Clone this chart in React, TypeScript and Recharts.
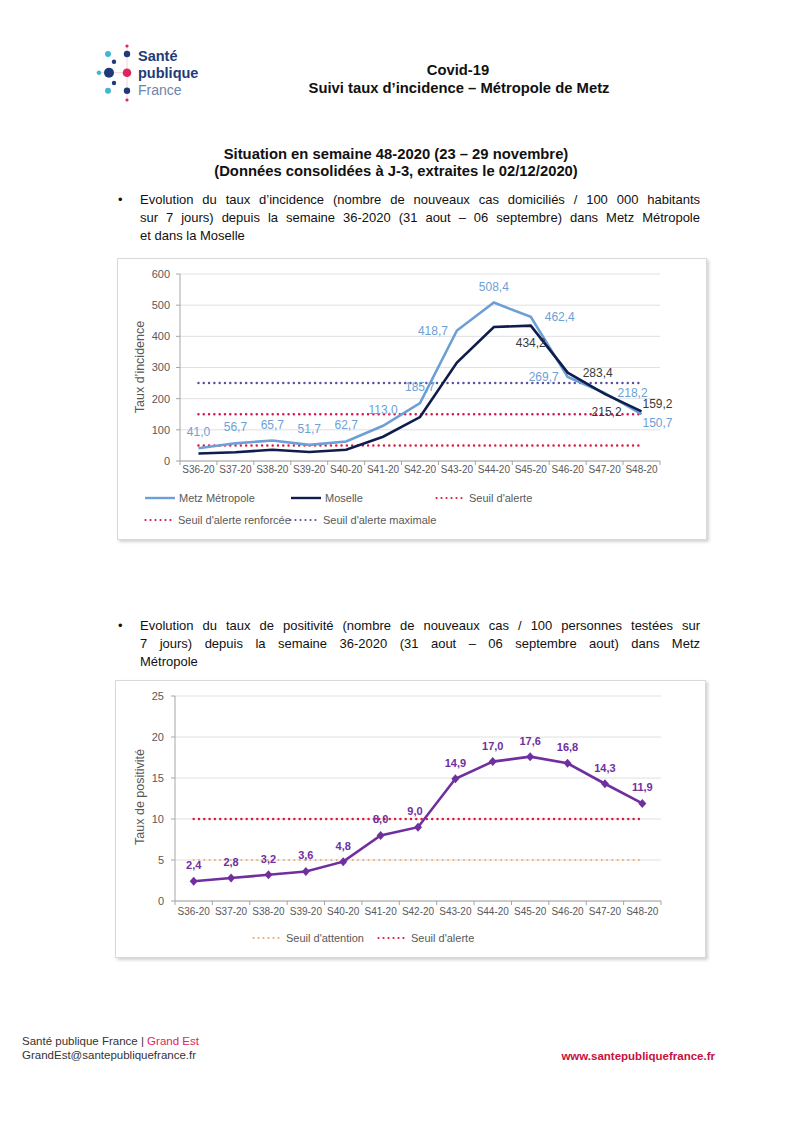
import React from "react";
import { LineChart, Line, XAxis, YAxis, CartesianGrid, ReferenceLine, LabelList } from "recharts";

// semaines
const weeks = ["S36-20", "S37-20", "S38-20", "S39-20", "S40-20", "S41-20", "S42-20", "S43-20", "S44-20", "S45-20", "S46-20", "S47-20", "S48-20"];

// taux d'incidence / 100 000 hab
const metzIncidence = [41.0, 56.7, 65.7, 51.7, 62.7, 113.0, 185.7, 418.7, 508.4, 462.4, 269.7, 218.2, 150.7];
const moselleIncidence = [24, 28, 36, 29, 36, 78, 141, 316, 430, 434.2, 283.4, 215.2, 159.2];
const incidenceTicks = [0, 100, 200, 300, 400, 500, 600];
const incidenceThresholds = [50, 150, 250];
const incidenceThresholdNames = ["Seuil d'alerte", "Seuil d'alerte renforcée", "Seuil d'alerte maximale"];

// taux de positivité
const metzPositivity = [2.4, 2.8, 3.2, 3.6, 4.8, 8.0, 9.0, 14.9, 17.0, 17.6, 16.8, 14.3, 11.9];
const positivityTicks = [0, 5, 10, 15, 20, 25];
const positivityThresholds = [5, 10];
const positivityThresholdNames = ["Seuil d'attention", "Seuil d'alerte"];

const incidenceRows = weeks.map((week, i) => ({ week, metz: metzIncidence[i], moselle: moselleIncidence[i] }));
const positivityRows = weeks.map((week, i) => ({ week, pos: metzPositivity[i] }));

const C = {
  metz: "#6c9fd6",
  moselle: "#0f1d4d",
  moselleText: "#3a3a3a",
  alerte: "#e3173e",
  renforcee: "#d0154c",
  maximale: "#5a4fa3",
  attention: "#f2a86c",
  purple: "#6f2f9f",
  axis: "#a6a6a6",
  grid: "#e0e0e0",
  text: "#595959",
  navy: "#1f3a7a",
  cyan: "#3fb6d3",
  crimson: "#e0245e",
};

const FONT = "'Liberation Sans', Arial, sans-serif";
const NARROW = "'Liberation Sans Narrow', 'Liberation Sans', Arial, sans-serif";
const fmt = (v: number) => v.toFixed(1).replace(".", ",");

const incidenceColors = [C.alerte, C.renforcee, C.maximale];
const positivityColors = [C.attention, C.alerte];

// tick labels centred on categories, tick marks between them (Excel style)
const makeTick = (axisY: number, band: number, count: number, textDy: number) => (props: any) => {
  const { x, payload, index } = props;
  const h = band / 2;
  return (
    <g>
      <line x1={x - h} x2={x - h} y1={axisY} y2={axisY + 4} stroke={C.axis} />
      {index === count - 1 && <line x1={x + h} x2={x + h} y1={axisY} y2={axisY + 4} stroke={C.axis} />}
      <text x={x} y={axisY + textDy} textAnchor="middle" dominantBaseline="central" fontSize={10} fill={C.text} fontFamily={FONT}>
        {payload.value}
      </text>
    </g>
  );
};

const makeLabel =
  (values: number[], shifts: Record<number, number[]>, color: string, size: number, weight: string, from = 0) =>
  (p: any) => {
    const idx = typeof p.index === "number" ? p.index : values.indexOf(p.value);
    if (idx < from) return null;
    const x = p.x ?? p.viewBox?.x;
    const y = p.y ?? p.viewBox?.y;
    const [dx, dy] = shifts[idx] ?? [0, -16];
    return (
      <text key={idx} x={x + dx} y={y + dy} textAnchor="middle" dominantBaseline="central" fontSize={size} fontWeight={weight} fill={color} fontFamily={FONT}>
        {fmt(Number(p.value))}
      </text>
    );
  };

const Diamond = (p: any) => {
  const { cx, cy, index } = p;
  return <path key={index} d={`M${cx},${cy - 4.5}L${cx + 4},${cy}L${cx},${cy + 4.5}L${cx - 4},${cy}Z`} fill={C.purple} />;
};

const LegendItem = ({ x, y, kind, color, label }: { x: number; y: number; kind: string; color: string; label: string }) => (
  <div style={{ position: "absolute", left: x, top: y - 8, height: 16, display: "flex", alignItems: "center", fontSize: 11, color: C.text, whiteSpace: "nowrap" }}>
    <svg width={30} height={6} style={{ marginRight: 4 }}>
      {kind === "solid" ? (
        <line x1={0} x2={30} y1={3} y2={3} stroke={color} strokeWidth={2.4} />
      ) : (
        <line x1={1.5} x2={29} y1={3} y2={3} stroke={color} strokeWidth={2.2} strokeDasharray="0 5" strokeLinecap="round" />
      )}
    </svg>
    {label}
  </div>
);

const AxisTitle = ({ cx, cy, text }: { cx: number; cy: number; text: string }) => (
  <div style={{ position: "absolute", left: cx - 100, top: cy - 8, width: 200, lineHeight: "16px", textAlign: "center", fontSize: 12.5, color: C.text, transform: "rotate(-90deg)" }}>
    {text}
  </div>
);

const Bullet = ({ top, lines }: { top: number; lines: string[] }) => (
  <div style={{ position: "absolute", left: 140, top, width: 560, fontSize: 13, lineHeight: "18px", color: "#111" }}>
    <span style={{ position: "absolute", left: -22 }}>•</span>
    {lines.map((l, i) => (
      <div key={i} style={{ textAlign: i < lines.length - 1 ? "justify" : "left", textAlignLast: i < lines.length - 1 ? "justify" : "left" }}>
        {l}
      </div>
    ))}
  </div>
);

const Centered = ({ cx, cy, text, size = 14.8 }: { cx: number; cy: number; text: string; size?: number }) => (
  <div style={{ position: "absolute", left: cx - 250, top: cy - 9, width: 500, lineHeight: "18px", textAlign: "center", fontSize: size, fontWeight: "bold", color: "#111" }}>
    {text}
  </div>
);

const Logo = () => (
  <svg width={120} height={70} style={{ position: "absolute", left: 92, top: 40 }}>
    <line x1={4} x2={36} y1={32.7} y2={32.7} stroke="#f3c6d3" strokeWidth={0.8} />
    <line x1={35} x2={35} y1={6} y2={60} stroke="#f3c6d3" strokeWidth={0.8} />
    <circle cx={35} cy={6} r={1.6} fill={C.crimson} />
    <circle cx={16} cy={14} r={3} fill={C.cyan} />
    <circle cx={35} cy={14} r={3.2} fill={C.navy} />
    <circle cx={22} cy={21.7} r={2.2} fill={C.navy} />
    <circle cx={7} cy={32.7} r={2.2} fill={C.cyan} />
    <circle cx={17} cy={32.7} r={5} fill={C.navy} />
    <circle cx={35} cy={32.7} r={4.3} fill={C.crimson} />
    <circle cx={22} cy={43} r={2.2} fill={C.navy} />
    <circle cx={16} cy={50.7} r={3} fill={C.cyan} />
    <circle cx={35} cy={50.7} r={3.2} fill={C.navy} />
    <circle cx={35} cy={60} r={1.6} fill={C.crimson} />
    <text x={46} y={21} fontSize={14.5} fontWeight="bold" fill={C.navy} fontFamily={FONT}>Santé</text>
    <text x={46} y={38} fontSize={14.5} fontWeight="bold" fill={C.navy} fontFamily={FONT}>publique</text>
    <text x={46} y={55} fontSize={14} fill="#6b86ad" fontFamily={FONT}>France</text>
  </svg>
);

// ---- chart 1 layout
const W1 = 590;
const H1 = 282;
const M1 = { top: 16, right: 47, left: 0, bottom: 59 };
const YW1 = 63;
const BAND1 = (W1 - M1.right - YW1) / weeks.length;
const AXIS_Y1 = H1 - M1.bottom - 20;

// ---- chart 2 layout
const W2 = 591;
const H2 = 278;
const M2 = { top: 16, right: 45, left: 0, bottom: 37 };
const YW2 = 60;
const BAND2 = (W2 - M2.right - YW2) / weeks.length;
const AXIS_Y2 = H2 - M2.bottom - 20;

const boxStyle: React.CSSProperties = {
  position: "absolute",
  border: "1px solid #d9d9d9",
  boxShadow: "2px 2px 3px rgba(0,0,0,0.18)",
  background: "#fff",
};

const first = weeks[0];
const last = weeks[weeks.length - 1];

const IncidenceChart = () => (
  <LineChart width={W1} height={H1} data={incidenceRows} margin={M1}>
    <CartesianGrid vertical={false} stroke={C.grid} />
    <XAxis
      dataKey="week"
      interval={0}
      height={20}
      padding={{ left: BAND1 / 2, right: BAND1 / 2 }}
      tickLine={false}
      axisLine={{ stroke: C.axis }}
      tick={makeTick(AXIS_Y1, BAND1, weeks.length, 8.5)}
    />
    <YAxis
      width={YW1}
      domain={[0, 600]}
      ticks={incidenceTicks}
      interval={0}
      tickSize={4}
      tickMargin={6}
      axisLine={{ stroke: C.axis }}
      tickLine={{ stroke: C.axis }}
      tick={{ fontSize: 11, fill: C.text, fontFamily: FONT }}
    />
    {incidenceThresholds.map((t, i) => (
      <ReferenceLine
        key={t}
        segment={[{ x: first, y: t }, { x: last, y: t }]}
        stroke={incidenceColors[i]}
        strokeWidth={2.5}
        strokeDasharray="0 5.3"
        strokeLinecap="round"
      />
    ))}
    <Line dataKey="metz" stroke={C.metz} strokeWidth={2.6} dot={false} isAnimationActive={false}>
      <LabelList dataKey="metz" content={makeLabel(metzIncidence, { 7: [-24, 0], 9: [29, 0], 10: [-24, 0], 11: [28, 0], 12: [16, 9] }, C.metz, 12, "normal")} />
    </Line>
    <Line dataKey="moselle" stroke={C.moselle} strokeWidth={2.6} dot={false} isAnimationActive={false}>
      <LabelList dataKey="moselle" content={makeLabel(moselleIncidence, { 9: [0, 17], 10: [30, 0], 11: [2, 18], 12: [16, -7] }, C.moselleText, 12, "normal", 9)} />
    </Line>
  </LineChart>
);

const PositivityChart = () => (
  <LineChart width={W2} height={H2} data={positivityRows} margin={M2}>
    <CartesianGrid vertical={false} stroke={C.grid} />
    <XAxis
      dataKey="week"
      interval={0}
      height={20}
      padding={{ left: BAND2 / 2, right: BAND2 / 2 }}
      tickLine={false}
      axisLine={{ stroke: C.axis }}
      tick={makeTick(AXIS_Y2, BAND2, weeks.length, 10.5)}
    />
    <YAxis
      width={YW2}
      domain={[0, 25]}
      ticks={positivityTicks}
      interval={0}
      tickSize={4}
      tickMargin={7}
      axisLine={{ stroke: C.axis }}
      tickLine={{ stroke: C.axis }}
      tick={{ fontSize: 11, fill: C.text, fontFamily: FONT }}
    />
    {positivityThresholds.map((t, i) => (
      <ReferenceLine
        key={t}
        segment={[{ x: first, y: t }, { x: last, y: t }]}
        stroke={positivityColors[i]}
        strokeWidth={i === 0 ? 2 : 2.5}
        strokeDasharray="0 5.3"
        strokeLinecap="round"
      />
    ))}
    <Line dataKey="pos" stroke={C.purple} strokeWidth={2.6} dot={Diamond} activeDot={false} isAnimationActive={false}>
      <LabelList dataKey="pos" content={makeLabel(metzPositivity, { 6: [-3, -16] }, C.purple, 11, "bold")} />
    </Line>
  </LineChart>
);

export default function App() {
  return (
    <div style={{ position: "absolute", left: 0, top: 0, width: 795, height: 1125, background: "#fff", fontFamily: FONT, overflow: "hidden" }}>
      <Logo />
      <Centered cx={458} cy={70} text="Covid-19" />
      <Centered cx={459} cy={88} text="Suivi taux d’incidence – Métropole de Metz" />
      <Centered cx={396} cy={154} text="Situation en semaine 48-2020 (23 – 29 novembre)" />
      <Centered cx={396} cy={171} text="(Données consolidées à J-3, extraites le 02/12/2020)" />

      <Bullet
        top={191}
        lines={[
          "Evolution du taux d’incidence (nombre de nouveaux cas domiciliés / 100 000 habitants",
          "sur 7 jours) depuis la semaine 36-2020 (31 aout – 06 septembre) dans Metz Métropole",
          "et dans la Moselle",
        ]}
      />

      <div style={{ ...boxStyle, left: 117, top: 258, width: W1 - 2, height: H1 - 2 }}>
        <div style={{ position: "absolute", left: -1, top: -1 }}>
          <IncidenceChart />
        </div>
      </div>
      <AxisTitle cx={140} cy={367} text="Taux d’incidence" />
      <LegendItem x={145} y={498} kind="solid" color={C.metz} label="Metz Métropole" />
      <LegendItem x={291} y={498} kind="solid" color={C.moselle} label="Moselle" />
      <LegendItem x={435} y={498} kind="dot" color={incidenceColors[0]} label={incidenceThresholdNames[0]} />
      <LegendItem x={144} y={520} kind="dot" color={incidenceColors[1]} label={incidenceThresholdNames[1]} />
      <LegendItem x={289} y={520} kind="dot" color={incidenceColors[2]} label={incidenceThresholdNames[2]} />

      <Bullet
        top={617}
        lines={[
          "Evolution du taux de positivité (nombre de nouveaux cas / 100 personnes testées sur",
          "7 jours) depuis la semaine 36-2020 (31 aout – 06 septembre aout) dans Metz",
          "Métropole",
        ]}
      />

      <div style={{ ...boxStyle, left: 115, top: 680, width: W2 - 2, height: H2 - 2 }}>
        <div style={{ position: "absolute", left: -1, top: -1 }}>
          <PositivityChart />
        </div>
      </div>
      <AxisTitle cx={140} cy={797} text="Taux de positivité" />
      <LegendItem x={252} y={938} kind="dot" color={positivityColors[0]} label={positivityThresholdNames[0]} />
      <LegendItem x={377} y={938} kind="dot" color={positivityColors[1]} label={positivityThresholdNames[1]} />

      <div style={{ position: "absolute", left: 22, top: 1034, fontSize: 11.5, lineHeight: "14px", color: "#333", fontFamily: NARROW }}>
        <div>
          Santé publique France | <span style={{ color: C.crimson }}>Grand Est</span>
        </div>
        <div>GrandEst@santepubliquefrance.fr</div>
      </div>
      <div style={{ position: "absolute", right: 80, top: 1049, fontSize: 11.5, lineHeight: "14px", fontWeight: "bold", color: "#c8103e", fontFamily: NARROW }}>
        www.santepubliquefrance.fr
      </div>
    </div>
  );
}
